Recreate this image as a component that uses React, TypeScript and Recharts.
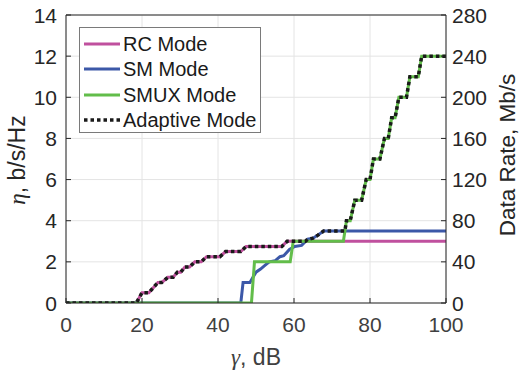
import { LineChart, Line, XAxis, YAxis, CartesianGrid, Legend } from "recharts";

// values (x = gamma in dB, y = eta in b/s/Hz)
const rcX = [0, 18.5, 20, 21.8, 24.2, 25.2, 26.8, 28.2, 29.3, 30.2, 31.3, 32.5, 33.9, 35.6, 37, 40.5, 42, 46, 47.4, 56.8, 58.2, 100];
const rcY = [0, 0, 0.5, 0.5, 1.0, 1.0, 1.25, 1.25, 1.5, 1.5, 1.75, 1.75, 2.0, 2.0, 2.25, 2.25, 2.5, 2.5, 2.75, 2.75, 3.0, 3.0];

const smX = [0, 46, 46.6, 48.4, 50, 51.2, 52.5, 53.5, 55, 56.3, 57.3, 58.8, 60.2, 62, 63.6, 65, 66.3, 67.8, 100];
const smY = [0, 0, 1.0, 1.0, 1.5, 1.65, 1.85, 2.0, 2.05, 2.25, 2.3, 2.6, 2.75, 2.8, 3.1, 3.15, 3.3, 3.5, 3.5];

const smuxX = [0, 48.8, 49.6, 59, 59.8, 73, 73.8, 74.8, 76, 77.8, 79, 80, 80.9, 82.6, 83.8, 84.8, 85.7, 86.6, 87.6, 89.6, 90.5, 92.7, 93.6, 100];
const smuxY = [0, 0, 2.0, 2.0, 3.0, 3.0, 4.0, 4.0, 5.0, 5.0, 6.0, 6.0, 7.0, 7.0, 8.0, 8.0, 9.0, 9.0, 10.0, 10.0, 11.0, 11.0, 12.0, 12.0];

const adX = [0, 18.5, 20, 21.8, 24.2, 25.2, 26.8, 28.2, 29.3, 30.2, 31.3, 32.5, 33.9, 35.6, 37, 40.5, 42, 46, 47.4, 56.8, 58.2, 63, 63.6, 65, 66.3, 67.8, 73.4, 73.8, 74.8, 76, 77.8, 79, 80, 80.9, 82.6, 83.8, 84.8, 85.7, 86.6, 87.6, 89.6, 90.5, 92.7, 93.6, 100];
const adY = [0, 0, 0.5, 0.5, 1.0, 1.0, 1.25, 1.25, 1.5, 1.5, 1.75, 1.75, 2.0, 2.0, 2.25, 2.25, 2.5, 2.5, 2.75, 2.75, 3.0, 3.0, 3.1, 3.15, 3.3, 3.5, 3.5, 4.0, 4.0, 5.0, 5.0, 6.0, 6.0, 7.0, 7.0, 8.0, 8.0, 9.0, 9.0, 10.0, 10.0, 11.0, 11.0, 12.0, 12.0];

const xTicks = [0, 20, 40, 60, 80, 100];
const leftTicks = [0, 2, 4, 6, 8, 10, 12, 14];
const rightTicks = [0, 40, 80, 120, 160, 200, 240, 280];

const toPoints = (xs: number[], ys: number[]) => xs.map((x, i) => ({ x, y: ys[i] }));

const series = [
  { name: "RC Mode", data: toPoints(rcX, rcY), color: "#c0509e", width: 3, dash: undefined },
  { name: "SM Mode", data: toPoints(smX, smY), color: "#3c58a8", width: 3, dash: undefined },
  { name: "SMUX Mode", data: toPoints(smuxX, smuxY), color: "#62bd4a", width: 3, dash: undefined },
  { name: "Adaptive Mode", data: toPoints(adX, adY), color: "#1a1a1a", width: 3.5, dash: "3.5 3" },
];

const FONT = "'Liberation Sans', Arial, sans-serif";
const GREEK = "'Liberation Serif', 'DejaVu Serif', serif";
const AXIS = "#262626";

const BottomTick = ({ x, y, payload }: any) => (
  <g>
    <line x1={x} y1={y} x2={x} y2={y - 5} stroke={AXIS} />
    <text x={x} y={y + 29} textAnchor="middle" fontSize={21} fontFamily={FONT} fill="#404040">
      {payload.value}
    </text>
  </g>
);

const TopTick = ({ x, y }: any) => <line x1={x} y1={y} x2={x} y2={y + 5} stroke={AXIS} />;

const LeftTick = ({ x, y, payload }: any) => (
  <g>
    <line x1={x} y1={y} x2={x + 5} y2={y} stroke={AXIS} />
    <text x={x - 9} y={y + 7.5} textAnchor="end" fontSize={21} fontFamily={FONT} fill="#262626">
      {payload.value}
    </text>
  </g>
);

const RightTick = ({ x, y, payload }: any) => (
  <g>
    <line x1={x} y1={y} x2={x - 5} y2={y} stroke={AXIS} />
    <text x={x + 6} y={y + 7.5} textAnchor="start" fontSize={21} fontFamily={FONT} fill="#262626">
      {payload.value}
    </text>
  </g>
);

// legend rows follow the series order (the default payload is sorted by name)
const LegendBox = () => (
  <div
    style={{
      width: 182,
      height: 106,
      boxSizing: "border-box",
      border: "1px solid #7a7a7a",
      background: "#fff",
      paddingTop: 3,
      fontFamily: FONT,
    }}
  >
    {series.map((s) => (
      <div key={s.name} style={{ display: "flex", alignItems: "center", height: 25.5 }}>
        <svg width={40} height={8} style={{ flex: "none" }}>
          <line x1={4} y1={4} x2={40} y2={4} stroke={s.color} strokeWidth={s.width} strokeDasharray={s.dash} />
        </svg>
        <span style={{ marginLeft: 3, fontSize: 20, lineHeight: 1, color: "#1a1a1a", whiteSpace: "nowrap" }}>
          {s.name}
        </span>
      </div>
    ))}
  </div>
);

export default function App() {
  return (
    <div style={{ position: "absolute", left: 0, top: 0, background: "#fff" }}>
      <LineChart width={521} height={376} margin={{ top: 10, right: 5, bottom: 13, left: 6 }}>
        <CartesianGrid stroke="#e4e4e4" />
        <XAxis
          dataKey="x"
          type="number"
          domain={[0, 100]}
          ticks={xTicks}
          interval={0}
          allowDataOverflow
          height={60}
          tickSize={0}
          tickMargin={0}
          tickLine={false}
          axisLine={{ stroke: AXIS }}
          tick={BottomTick}
          label={() => (
            <text x={256} y={365} textAnchor="middle" fontSize={23} fontFamily={FONT} fill="#404040">
              <tspan fontFamily={GREEK} fontStyle="italic">γ</tspan>
              <tspan>, dB</tspan>
            </text>
          )}
        />
        <XAxis
          xAxisId="top"
          orientation="top"
          type="number"
          domain={[0, 100]}
          ticks={xTicks}
          interval={0}
          allowDataOverflow
          height={5}
          tickSize={0}
          tickMargin={0}
          tickLine={false}
          axisLine={{ stroke: AXIS }}
          tick={TopTick}
        />
        <YAxis
          type="number"
          domain={[0, 14]}
          ticks={leftTicks}
          interval={0}
          allowDataOverflow
          width={60}
          tickSize={0}
          tickMargin={0}
          tickLine={false}
          axisLine={{ stroke: AXIS }}
          tick={LeftTick}
          label={() => (
            <text transform="translate(25,160) rotate(-90)" textAnchor="middle" fontSize={23} fontFamily={FONT} fill="#262626">
              <tspan fontFamily={GREEK} fontStyle="italic">η</tspan>
              <tspan>, b/s/Hz</tspan>
            </text>
          )}
        />
        <YAxis
          yAxisId="right"
          orientation="right"
          type="number"
          domain={[0, 280]}
          ticks={rightTicks}
          interval={0}
          allowDataOverflow
          width={70}
          tickSize={0}
          tickMargin={0}
          tickLine={false}
          axisLine={{ stroke: AXIS }}
          tick={RightTick}
          label={() => (
            <text transform="translate(515,155) rotate(-90)" textAnchor="middle" fontSize={22.5} fontFamily={FONT} fill="#262626">
              Data Rate, Mb/s
            </text>
          )}
        />
        {series.map((s) => (
          <Line
            key={s.name}
            data={s.data}
            dataKey="y"
            name={s.name}
            type="linear"
            stroke={s.color}
            strokeWidth={s.width}
            strokeDasharray={s.dash}
            dot={false}
            activeDot={false}
            isAnimationActive={false}
          />
        ))}
        <Legend
          layout="vertical"
          align="center"
          verticalAlign="middle"
          wrapperStyle={{ left: 79, top: 27, width: 182, height: 106 }}
          content={LegendBox}
        />
      </LineChart>
    </div>
  );
}
